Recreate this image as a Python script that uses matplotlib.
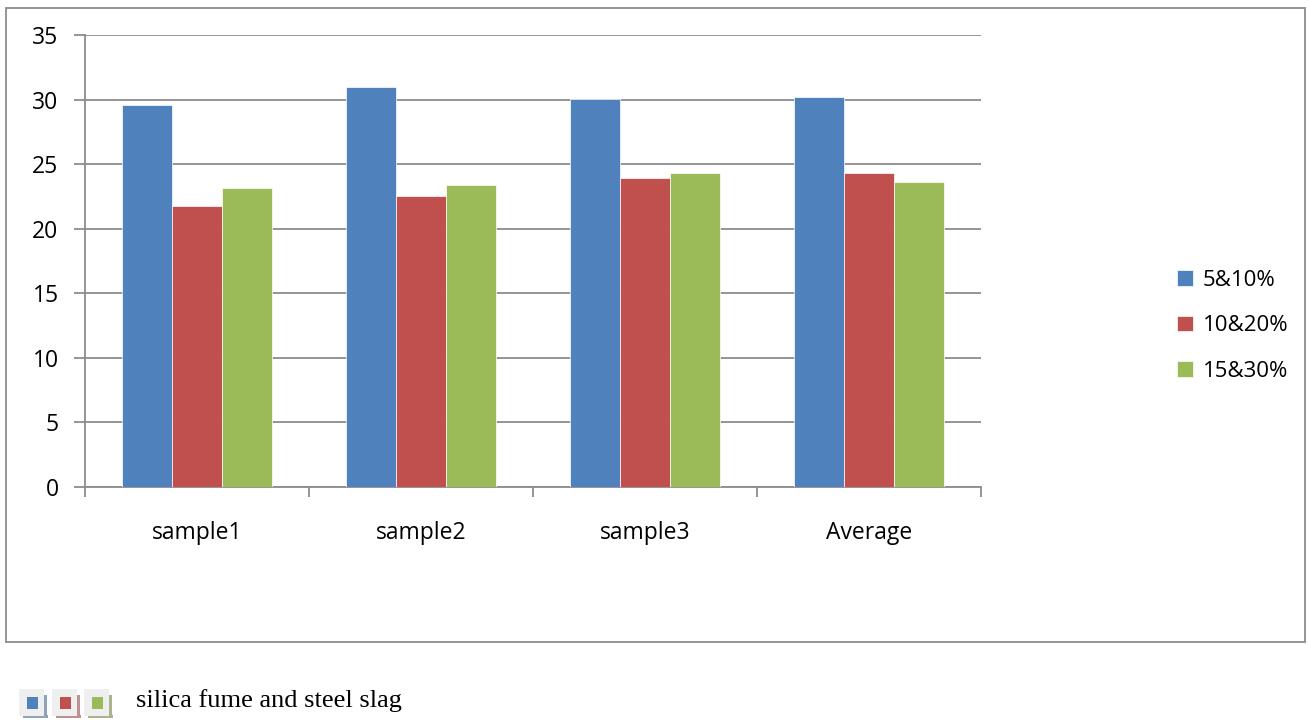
import matplotlib.pyplot as plt
from matplotlib.patches import Rectangle
import numpy as np

categories = ["sample1", "sample2", "sample3", "Average"]
series_names = ["5&10%", "10&20%", "15&30%"]
mix_5_10 = [29.6, 31.0, 30.05, 30.2]
mix_10_20 = [21.75, 22.5, 23.9, 24.35]
mix_15_30 = [23.15, 23.4, 24.35, 23.6]
yticks = [0, 5, 10, 15, 20, 25, 30, 35]
caption = "silica fume and steel slag"

COLORS = ["#4F81BD", "#C0504D", "#9BBB59"]
SHADOWS = ["#8FA2BD", "#BC9191", "#A9B48E"]
GRID = "#8C8C8C"

plt.rcParams["font.family"] = ["Open Sans", "DejaVu Sans"]

W, H = 1309, 720
fig = plt.figure(figsize=(W / 100, H / 100), dpi=100)

# outer chart frame
fig.patches.append(Rectangle((6 / W, 1 - 642 / H), 1299 / W, 634 / H, transform=fig.transFigure,
                             fill=False, edgecolor="#8C8C8C", linewidth=1.3))

ax = fig.add_axes([85 / W, 1 - 487 / H, 896 / W, 452 / H])
x = np.arange(len(categories))
width = 0.223
for i, (vals, col) in enumerate(zip([mix_5_10, mix_10_20, mix_15_30], COLORS)):
    ax.bar(x + (i - 1) * width, vals, width, color=col, edgecolor="white", linewidth=0.5,
           label=series_names[i], zorder=3)

ax.set_xlim(-0.5, len(categories) - 0.5)
ax.set_ylim(0, 35)
ax.set_yticks(yticks)
ax.set_yticklabels([str(t) for t in yticks], fontsize=16.5)
ax.yaxis.grid(True, color=GRID, linewidth=1.3)
ax.set_axisbelow(True)
ax.set_xticks(x)
ax.set_xticklabels(categories, fontsize=16.5)
ax.tick_params(axis="x", length=0, pad=24.5)
ax.set_xticks(np.arange(len(categories) + 1) - 0.5, minor=True)
ax.tick_params(axis="x", which="minor", length=7, color=GRID, width=1.3)
ax.tick_params(axis="y", length=8, color=GRID, width=1.3, pad=11)
for s in ("top", "right"):
    ax.spines[s].set_visible(False)
for s in ("left", "bottom"):
    ax.spines[s].set_color(GRID)
    ax.spines[s].set_linewidth(1.3)

ax.legend(loc="center left", bbox_to_anchor=(1166 / W, 1 - 326 / H), bbox_transform=fig.transFigure,
          frameon=False, fontsize=16, handlelength=0.7, handleheight=0.7, handletextpad=0.45,
          labelspacing=1.1, borderpad=0)

# small icon strip next to the caption
icon_x = [19, 52, 84]
for ix, col, sh in zip(icon_x, COLORS, SHADOWS):
    fig.patches.append(Rectangle(((ix + 4) / W, 1 - 718 / H), 25 / W, 3 / H, transform=fig.transFigure,
                                 facecolor=sh, edgecolor="none"))
    fig.patches.append(Rectangle(((ix + 25) / W, 1 - 718 / H), 3 / W, 23 / H, transform=fig.transFigure,
                                 facecolor=sh, edgecolor="none"))
    fig.patches.append(Rectangle((ix / W, 1 - 716 / H), 25 / W, 27 / H, transform=fig.transFigure,
                                 facecolor="#EFEFEF", edgecolor="none"))
    fig.patches.append(Rectangle(((ix + 8) / W, 1 - 709 / H), 11 / W, 12 / H, transform=fig.transFigure,
                                 facecolor=col, edgecolor="none"))

fig.text(136 / W, 1 - 701 / H, caption, ha="left", va="center", fontsize=19,
         family=["Liberation Serif", "DejaVu Serif"], color="black")

fig.savefig("out.png", dpi=100)
